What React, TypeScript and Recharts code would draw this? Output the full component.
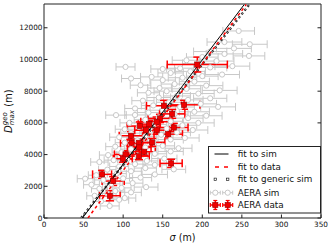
import React from 'react';
import { ScatterChart, Scatter, XAxis, YAxis, ErrorBar, Legend } from 'recharts';

const FONT = 'DejaVu Sans, Liberation Sans, sans-serif';

const X_DOMAIN: [number, number] = [0, 350];
const Y_DOMAIN: [number, number] = [0, 13500];
const xTicks = [0, 50, 100, 150, 200, 250, 300, 350];
const yTicks = [0, 2000, 4000, 6000, 8000, 10000, 12000];

// AERA sim (grey open circles)
const simSigma = [83, 72, 95, 102, 64, 80, 90, 110, 70, 98, 129, 60, 85, 112, 52, 75, 100, 122, 66, 92, 140, 110, 80, 164, 128, 95, 70, 115, 140, 88, 105, 130, 152, 81, 118, 98, 140, 160, 110, 128, 90, 150, 170, 102, 138, 118, 160, 95, 178, 128, 148, 110, 168, 135, 102, 188, 155, 120, 175, 140, 108, 195, 160, 128, 182, 145, 91, 115, 205, 165, 132, 190, 150, 115, 220, 172, 138, 198, 158, 125, 182, 210, 145, 168, 195, 132, 155, 222, 180, 146, 122, 205, 165, 190, 150, 136, 175, 110, 200, 225, 160, 185, 150, 103, 238, 172, 210, 195, 180, 218, 200, 259, 228, 210, 240, 260, 228, 246];
const simDmax = [760, 1050, 1150, 1260, 1400, 1550, 1700, 1620, 1850, 1900, 1950, 2100, 2150, 2200, 2480, 2400, 2500, 2550, 2700, 2800, 2750, 2950, 3050, 3070, 3150, 3250, 3530, 3400, 3350, 3650, 3700, 3600, 3750, 3970, 3950, 4150, 4050, 4200, 4350, 4450, 4500, 4550, 4400, 4750, 4800, 4900, 4950, 5100, 5050, 5150, 5250, 5350, 5400, 5500, 5600, 5550, 5650, 5750, 5850, 5900, 6000, 6000, 6100, 6200, 6300, 6350, 6490, 6500, 6450, 6550, 6650, 6700, 6800, 6910, 7010, 7000, 7100, 7200, 7300, 7400, 7450, 7550, 7600, 7700, 7850, 7900, 8000, 8050, 8150, 8200, 8380, 8350, 8450, 8600, 8700, 8900, 8850, 8800, 8950, 9050, 9150, 9250, 9400, 9530, 9580, 9450, 9500, 9750, 9950, 9900, 10150, 10225, 10350, 10500, 10700, 10960, 11100, 11800];
const simSigmaErr = [12, 10, 12, 14, 10, 11, 12, 13, 10, 12, 15, 10, 11, 13, 10, 11, 12, 14, 10, 12, 16, 13, 11, 15, 14, 12, 11, 13, 15, 12, 12, 14, 16, 11, 13, 12, 15, 16, 13, 14, 12, 15, 17, 12, 14, 13, 16, 12, 18, 14, 15, 13, 17, 14, 12, 19, 16, 13, 18, 15, 12, 20, 16, 14, 19, 15, 13, 13, 20, 17, 14, 19, 16, 13, 22, 18, 15, 20, 16, 14, 19, 21, 15, 17, 20, 14, 16, 22, 18, 15, 13, 21, 17, 19, 16, 14, 18, 12, 20, 22, 16, 19, 15, 12, 22, 17, 21, 20, 18, 22, 20, 20, 23, 21, 22, 22, 22, 20];

// AERA data (red squares)
const dataSigma = [193.7, 151.5, 177, 162, 146.5, 142.3, 121, 164, 133, 128.7, 142.3, 157, 110, 110.6, 120, 136.7, 120.3, 126.6, 120, 103, 99.6, 160.6, 73.4, 87.4, 83.2];
const dataDmax = [9680, 7075, 7140, 6570, 6280, 6070, 5800, 5710, 5920, 5540, 5540, 5290, 5190, 4745, 4745, 4770, 4450, 4180, 3900, 4013, 3740, 3446, 2753, 2331, 1405];
const dataSigmaErr = [38, 22, 20, 16, 15, 20, 16, 18, 14, 14, 16, 18, 15, 14, 15, 16, 15, 14, 13, 14, 12, 14, 12, 14, 13];
const dataDmaxErr = [470, 350, 280, 280, 260, 300, 260, 260, 240, 240, 250, 240, 260, 230, 230, 250, 230, 230, 220, 230, 220, 260, 250, 280, 320];

// fit lines (end points)
const fitSimSigma = [48.6, 253];
const fitSimDmax = [0, 13466];
const fitDataSigma = [55.5, 255.5];
const fitDataDmax = [0, 13466];
const fitGenericSigma = [47, 259.5];
const fitGenericDmax = [0, 13466];

const simPoints = simSigma.map((s, i) => ({ x: s, y: simDmax[i], ex: simSigmaErr[i] }));
const dataPoints = dataSigma.map((s, i) => ({ x: s, y: dataDmax[i], ex: dataSigmaErr[i], ey: dataDmaxErr[i] }));
const toLine = (xs: number[], ys: number[]) => xs.map((x, i) => ({ x, y: ys[i] }));
const fitSimLine = toLine(fitSimSigma, fitSimDmax);
const fitDataLine = toLine(fitDataSigma, fitDataDmax);
const fitGenericLine = toLine(fitGenericSigma, fitGenericDmax);

const AX = '#222';
const GREY = '#c8c8c8';
const RED = '#ff0000';

const SimCircle = (p: any) => (
  <circle cx={p.cx} cy={p.cy} r={2.6} fill="#fff" stroke={GREY} strokeWidth={1} />
);
const DataSquare = (p: any) => (
  <rect x={p.cx - 2.6} y={p.cy - 2.6} width={5.2} height={5.2} fill="#ee0000" stroke="#990000" strokeWidth={0.6} />
);
const NoShape = () => <g />;

const BottomTick = (p: any) => (
  <g>
    <line x1={p.x} x2={p.x} y1={p.y} y2={p.y - 3.5} stroke={AX} strokeWidth={1} />
    <text x={p.x} y={p.y + 8.8} textAnchor="middle" fontSize={7.3} fontFamily={FONT} fill="#111">
      {p.payload.value}
    </text>
  </g>
);
const TopTick = (p: any) => (
  <line x1={p.x} x2={p.x} y1={p.y} y2={p.y + 3.5} stroke={AX} strokeWidth={1} />
);
const LeftTick = (p: any) => (
  <g>
    <line x1={p.x} x2={p.x + 3.5} y1={p.y} y2={p.y} stroke={AX} strokeWidth={1} />
    <text x={p.x - 1.5} y={p.y + 2.6} textAnchor="end" fontSize={7.3} fontFamily={FONT} fill="#111">
      {p.payload.value}
    </text>
  </g>
);
const RightTick = (p: any) => (
  <line x1={p.x} x2={p.x - 3.5} y1={p.y} y2={p.y} stroke={AX} strokeWidth={1} />
);

const XLabel = (p: any) => {
  const vb = p.viewBox || { x: 44, y: 218, width: 277, height: 27 };
  return (
    <text x={vb.x + vb.width / 2} y={vb.y + 22.5} textAnchor="middle" fontSize={9.6} fontFamily={FONT} fill="#111">
      <tspan fontStyle="italic">σ</tspan>
      <tspan> (m)</tspan>
    </text>
  );
};

const YLabel = (p: any) => {
  const vb = p.viewBox || { x: 4, y: 4, width: 40, height: 214 };
  const cy = vb.y + vb.height / 2;
  return (
    <g transform={`translate(11.5,${cy}) rotate(-90)`}>
      <text x={-22} y={0} fontSize={10} fontFamily={FONT} fill="#111">
        <tspan fontStyle="italic">D</tspan>
        <tspan fontStyle="italic" fontSize={7} dy={-4.2}>geo</tspan>
        <tspan fontStyle="italic" fontSize={7} dx={-13} dy={6.8}>max</tspan>
        <tspan dy={-2.6}> (m)</tspan>
      </text>
    </g>
  );
};

const LegendBox = () => {
  const rows = [8.3, 21, 33.3, 46.7, 59];
  const m1 = 7.3;
  const m2 = 19.7;
  const tx = 29.7;
  const labels = ['fit to sim', 'fit to data', 'fit to generic sim', 'AERA sim', 'AERA data'];
  return (
    <svg width={114} height={68} style={{ display: 'block' }}>
      <rect x={0.5} y={0.5} width={112} height={66.5} fill="#fff" stroke={AX} strokeWidth={1} />
      <line x1={6.5} x2={20.5} y1={8} y2={8} stroke="#000" strokeWidth={1} />
      <line x1={7} x2={21} y1={rows[1]} y2={rows[1]} stroke={RED} strokeWidth={1.5} strokeDasharray="4 5" />
      {[m1, m2].map((mx) => (
        <rect key={'g' + mx} x={mx - 1.2} y={rows[2] - 1.2} width={2.4} height={2.4} fill="#fff" stroke="#000" strokeWidth={0.6} />
      ))}
      {[m1, m2].map((mx) => (
        <g key={'s' + mx}>
          <line x1={mx - 5} x2={mx + 5} y1={rows[3]} y2={rows[3]} stroke={GREY} strokeWidth={1} />
          <line x1={mx - 5} x2={mx - 5} y1={rows[3] - 2} y2={rows[3] + 2} stroke={GREY} strokeWidth={1} />
          <line x1={mx + 5} x2={mx + 5} y1={rows[3] - 2} y2={rows[3] + 2} stroke={GREY} strokeWidth={1} />
          <circle cx={mx} cy={rows[3]} r={2.6} fill="#fff" stroke={GREY} strokeWidth={1} />
        </g>
      ))}
      {[m1, m2].map((mx) => (
        <g key={'d' + mx}>
          <line x1={mx - 5} x2={mx + 5} y1={rows[4]} y2={rows[4]} stroke={RED} strokeWidth={1.5} />
          <line x1={mx} x2={mx} y1={rows[4] - 4.5} y2={rows[4] + 4.5} stroke={RED} strokeWidth={1.5} />
          <line x1={mx - 5} x2={mx - 5} y1={rows[4] - 2} y2={rows[4] + 2} stroke={RED} strokeWidth={1.2} />
          <line x1={mx + 5} x2={mx + 5} y1={rows[4] - 2} y2={rows[4] + 2} stroke={RED} strokeWidth={1.2} />
          <line x1={mx - 2} x2={mx + 2} y1={rows[4] - 4.5} y2={rows[4] - 4.5} stroke={RED} strokeWidth={1.2} />
          <line x1={mx - 2} x2={mx + 2} y1={rows[4] + 4.5} y2={rows[4] + 4.5} stroke={RED} strokeWidth={1.2} />
          <rect x={mx - 2.6} y={rows[4] - 2.6} width={5.2} height={5.2} fill="#ee0000" stroke="#990000" strokeWidth={0.6} />
        </g>
      ))}
      {labels.map((t, i) => (
        <text key={t} x={tx} y={rows[i] + 3.1} fontSize={8.8} fontFamily={FONT} fill="#111">
          {t}
        </text>
      ))}
    </svg>
  );
};

export default function App() {
  return (
    <div style={{ position: 'absolute', left: 0, top: 0, width: 332, height: 245, background: '#fff' }}>
      <ScatterChart width={332} height={245} margin={{ top: 3, right: 10, bottom: 0, left: 4 }}>
        <XAxis
          xAxisId={0}
          dataKey="x"
          type="number"
          domain={X_DOMAIN}
          ticks={xTicks}
          interval={0}
          allowDataOverflow
          height={27}
          axisLine={{ stroke: AX, strokeWidth: 1 }}
          tickLine={false}
          tickSize={0}
          tickMargin={0}
          tick={BottomTick}
          label={XLabel}
        />
        <XAxis
          xAxisId="top"
          orientation="top"
          type="number"
          domain={X_DOMAIN}
          ticks={xTicks}
          interval={0}
          allowDataOverflow
          height={1}
          axisLine={{ stroke: AX, strokeWidth: 1 }}
          tickLine={false}
          tickSize={0}
          tickMargin={0}
          tick={TopTick}
        />
        <YAxis
          yAxisId={0}
          dataKey="y"
          type="number"
          domain={Y_DOMAIN}
          ticks={yTicks}
          interval={0}
          allowDataOverflow
          width={40}
          axisLine={{ stroke: AX, strokeWidth: 1 }}
          tickLine={false}
          tickSize={0}
          tickMargin={0}
          tick={LeftTick}
          label={YLabel}
        />
        <YAxis
          yAxisId="right"
          orientation="right"
          type="number"
          domain={Y_DOMAIN}
          ticks={yTicks}
          interval={0}
          allowDataOverflow
          width={1}
          axisLine={{ stroke: AX, strokeWidth: 1 }}
          tickLine={false}
          tickSize={0}
          tickMargin={0}
          tick={RightTick}
        />
        <Scatter data={simPoints} shape={SimCircle} isAnimationActive={false} legendType="none">
          <ErrorBar dataKey="ex" direction="x" width={4} stroke={GREY} strokeWidth={1} />
        </Scatter>
        <Scatter data={fitGenericLine} shape={NoShape} line={{ stroke: '#222', strokeWidth: 2.2, strokeDasharray: '2.2 2.6' }} isAnimationActive={false} legendType="none" />
        <Scatter data={fitGenericLine} shape={NoShape} line={{ stroke: '#fff', strokeWidth: 0.9, strokeDasharray: '0.8 4', strokeDashoffset: -0.7 }} isAnimationActive={false} legendType="none" />
        <Scatter data={fitSimLine} shape={NoShape} line={{ stroke: '#000', strokeWidth: 1 }} isAnimationActive={false} legendType="none" />
        <Scatter data={fitDataLine} shape={NoShape} line={{ stroke: RED, strokeWidth: 1.5, strokeDasharray: '3 3' }} isAnimationActive={false} legendType="none" />
        <Scatter data={dataPoints} shape={DataSquare} isAnimationActive={false} legendType="none">
          <ErrorBar dataKey="ex" direction="x" width={4} stroke={RED} strokeWidth={1.5} />
          <ErrorBar dataKey="ey" direction="y" width={4} stroke={RED} strokeWidth={1.5} />
        </Scatter>
        <Legend
          layout="vertical"
          align="center"
          verticalAlign="middle"
          content={LegendBox}
          wrapperStyle={{ position: 'absolute', left: 208, top: 146, width: 114, height: 68, margin: 0, padding: 0 }}
        />
      </ScatterChart>
    </div>
  );
}
